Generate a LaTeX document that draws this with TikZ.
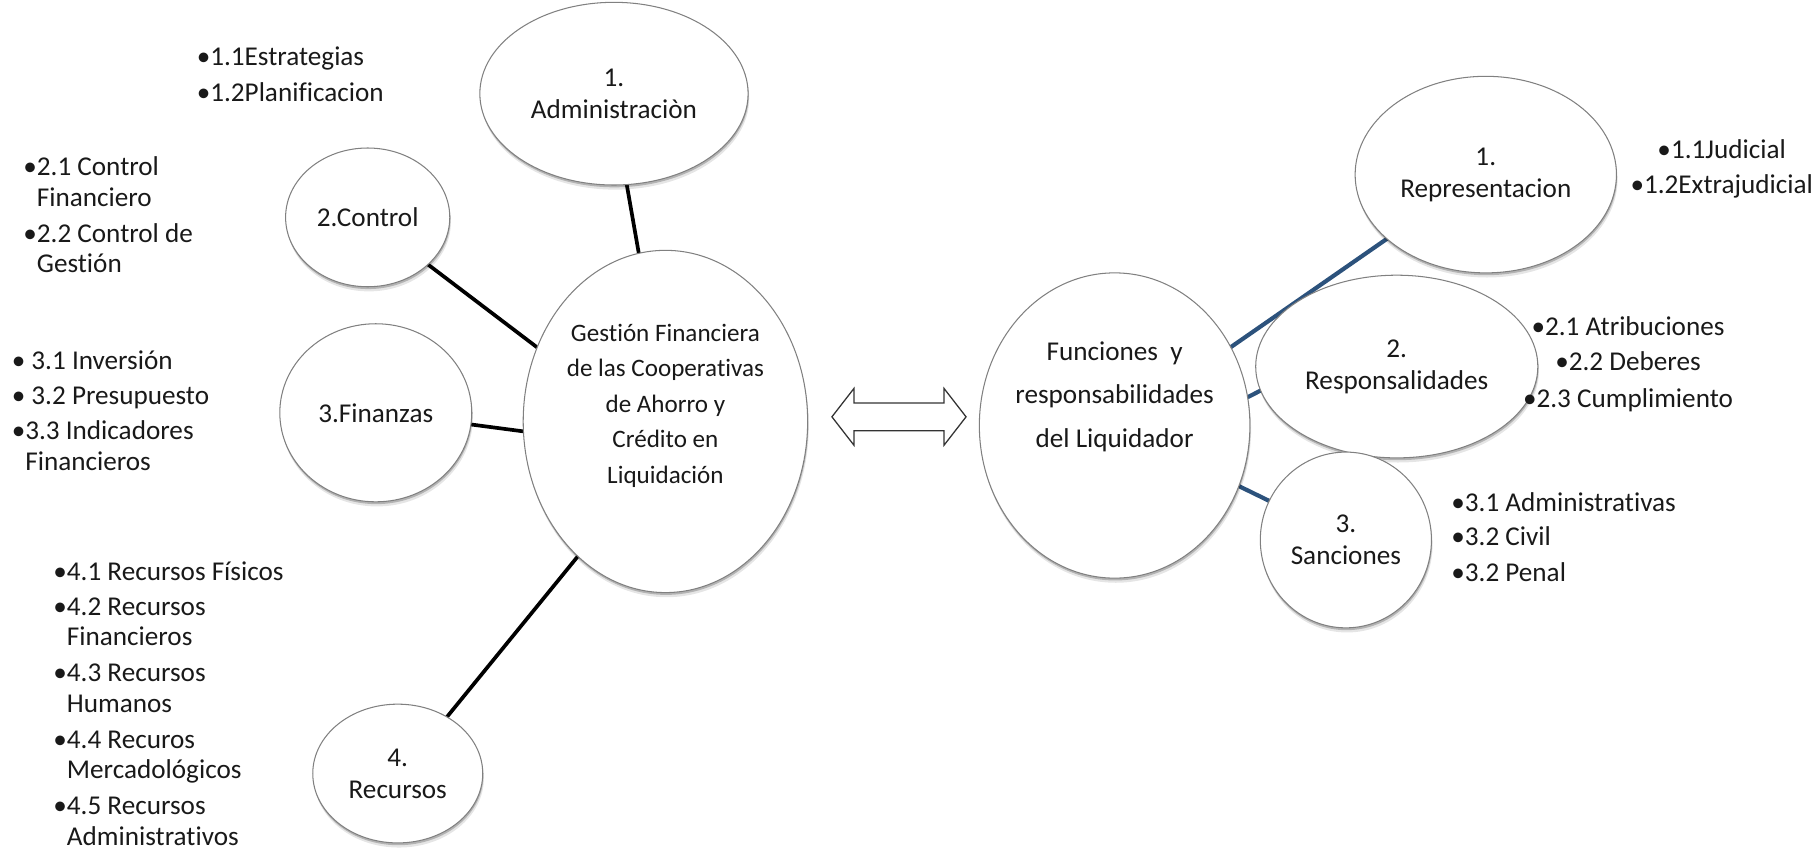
\documentclass[tikz,border=0pt]{standalone}
\usepackage{fontspec}
\setmainfont{Carlito}[Ligatures=NoCommon]
\usetikzlibrary{shapes.geometric,shadows}
\pgfdeclarelayer{background}
\pgfsetlayers{background,main}
\definecolor{linkblue}{RGB}{44,82,124}
\definecolor{inkgray}{RGB}{25,25,25}
\begin{document}
\begin{tikzpicture}[x=1pt,y=-1pt,
  bubble/.style={ellipse, draw=black!50, line width=0.9pt, fill=white,
    inner sep=0pt, outer sep=0pt, align=center, text=inkgray,
    font=\fontsize{23.5}{27.5}\selectfont,
    drop shadow={shadow xshift=0.5pt, shadow yshift=-2pt, opacity=0.22, fill=black},
    drop shadow={shadow xshift=1pt, shadow yshift=-4pt, opacity=0.10, fill=black}},
  caption/.style={inner sep=0pt, align=center, text=inkgray},
  itemlist/.style={inner sep=0pt, text=inkgray, font=\fontsize{23.5}{26.5}\selectfont},
  blackwire/.style={line width=3.2pt, black},
  bluewire/.style={line width=3.6pt, linkblue},
  dblarrow/.style={draw=black!80, line width=1.1pt, fill=white, line join=miter}]
\useasboundingbox (0,0) rectangle (1568,736);

% left cluster
\node[bubble, minimum width=232pt, minimum height=158pt] (admin) at (531,81) {1.\\Administraciòn};
\node[bubble, minimum width=142pt, minimum height=120pt] (control) at (318,188) {2.Control};
\node[bubble, minimum width=166pt, minimum height=154pt] (finanzas) at (325,357) {3.Finanzas};
\node[bubble, minimum width=147pt, minimum height=120pt] (recursos) at (344,669) {4.\\Recursos};
\node[bubble, minimum width=246pt, minimum height=296pt] (central) at (575.5,364.5) {};
\node[caption, font=\fontsize{21.7}{30.7}\selectfont] (centraltext) at (575.5,351)
  {Gestión Financiera\\de las Cooperativas\\de Ahorro y\\Crédito en\\Liquidación};

% double arrow between the two clusters
\coordinate (dbl) at (777.5,360.5);
\draw[dblarrow, shift={(dbl)}] (-58,0) -- (-39,-24.5) -- (-39,-12) -- (39,-12) -- (39,-24.5)
  -- (58,0) -- (39,24.5) -- (39,12) -- (-39,12) -- (-39,24.5) -- cycle;

% right cluster
\node[bubble, minimum width=234pt, minimum height=264pt] (fun) at (964,368) {};
\node[caption, font=\fontsize{23.5}{37.5}\selectfont] (funtext) at (964,343)
  {Funciones~ y\\responsabilidades\\del Liquidador};
\node[bubble, minimum width=226pt, minimum height=170pt] (rep) at (1285,151) {1.\\Representacion};
\node[bubble, minimum width=244pt, minimum height=158pt] (resp) at (1208,317) {2.\\Responsalidades};
\node[bubble, minimum width=148pt, minimum height=152pt] (san) at (1164,467) {3.\\Sanciones};

% connectors
\begin{pgfonlayer}{background}
\draw[blackwire] (admin.278.4) -- (central.99.4);
\draw[blackwire] (control.-38.5) -- (central.150.8);
\draw[blackwire] (finanzas.-7.5) -- (central.184.4);
\draw[blackwire] (recursos.49.4) -- (central.237.2);
\draw[bluewire] (fun.34.3) -- (rep.213);
\draw[bluewire] (fun.12) -- (resp.190.8);
\draw[bluewire] (fun.-26.6) -- (san.153.4);
\end{pgfonlayer}

% bullet lists (anchored at the baseline of their last line)
\node[itemlist, align=left, anchor=base west] (list1) at (170,88)
  {•1.1Estrategias\\[4.5pt]•1.2Planificacion};
\node[itemlist, align=left, anchor=base west] (list2) at (20,236)
  {•2.1 Control\\\hphantom{•}Financiero\\[4.5pt]•2.2 Control de\\\hphantom{•}Gestión};
\node[itemlist, align=left, anchor=base west] (list3) at (10,407)
  {• 3.1 Inversión\\[3.5pt]• 3.2 Presupuesto\\[4.5pt]•3.3 Indicadores\\\hphantom{•}Financieros};
\node[itemlist, align=left, anchor=base west] (list4) at (46,731)
  {•4.1 Recursos Físicos\\[3.5pt]•4.2 Recursos\\\hphantom{•}Financieros\\[4.5pt]•4.3 Recursos\\\hphantom{•}Humanos\\[4.5pt]•4.4 Recuros\\\hphantom{•}Mercadológicos\\[4.5pt]•4.5 Recursos\\\hphantom{•}Administrativos};
\node[itemlist, align=center, anchor=base] (list5) at (1489,167)
  {•1.1Judicial\\[3.5pt]•1.2Extrajudicial};
\node[itemlist, align=center, anchor=base] (list6) at (1408,352)
  {•2.1 Atribuciones\\[3.5pt]•2.2 Deberes\\[5.5pt]•2.3 Cumplimiento};
\node[itemlist, align=left, anchor=base west] (list7) at (1255,503)
  {•3.1 Administrativas\\[3.5pt]•3.2 Civil\\[4.5pt]•3.2 Penal};
\end{tikzpicture}
\end{document}
